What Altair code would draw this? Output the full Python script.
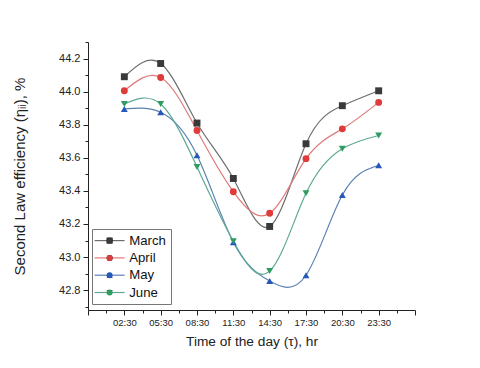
import altair as alt
import pandas as pd

times = ["02:30", "05:30", "08:30", "11:30", "14:30", "17:30", "20:30", "23:30"]
months = ["March", "April", "May", "June"]
march = [44.09, 44.17, 43.81, 43.475, 43.185, 43.685, 43.915, 44.005]
april = [44.005, 44.085, 43.765, 43.395, 43.265, 43.595, 43.775, 43.935]
may = [43.895, 43.875, 43.615, 43.09, 42.855, 42.89, 43.375, 43.555]
june = [43.925, 43.925, 43.545, 43.095, 42.915, 43.385, 43.655, 43.735]

marker_colors = ["#3a3a3a", "#e03b3b", "#2558b8", "#2f9c60"]
line_colors = ["#6e6e6e", "#e07a7a", "#5b80b4", "#5ea896"]
shapes = ["square", "circle", "triangle-up", "triangle-down"]

rows = []
for m, vals in zip(months, [march, april, may, june]):
    for t, v in zip(times, vals):
        h, mi = t.split(":")
        rows.append({"month": m, "month2": m, "time": t,
                     "hour": int(h) + int(mi) / 60, "eff": v})
df = pd.DataFrame(rows)

x_ticks = [-0.5 + 1.5 * i for i in range(19)]
y_ticks = [round(42.7 + 0.1 * i, 1) for i in range(17)]

major_x = "(abs((datum.value - 2.5) % 3) < 0.01) || datum.value < 0 || datum.value > 26"
label_x = ("(abs((datum.value - 2.5) % 3) < 0.01 && datum.value > 0 && datum.value < 25) ? "
           "((floor(datum.value) < 10 ? '0' : '') + floor(datum.value) + ':30') : ''")
major_y = "round(datum.value * 10) % 2 == 0"

FONT = "Liberation Sans"

x = alt.X("hour:Q", scale=alt.Scale(domain=[-0.5, 26.5], nice=False, zero=False),
          axis=alt.Axis(values=x_ticks, labelExpr=label_x,
                        tickSize={"condition": {"test": major_x, "value": 5}, "value": 3},
                        title="Time of the day (τ), hr", labelFontSize=9.5, titleFontSize=13.7,
                        titlePadding=8, labelPadding=2, grid=False,
                        domainColor="#222", tickColor="#222", labelColor="#222",
                        titleColor="#222", titleFontWeight="normal",
                        labelFont=FONT, titleFont=FONT))
y = alt.Y("eff:Q", scale=alt.Scale(domain=[42.68, 44.30], nice=False, zero=False),
          axis=alt.Axis(values=y_ticks,
                        labelExpr=f"{major_y} ? format(datum.value, '.1f') : ''",
                        tickSize={"condition": {"test": major_y, "value": 5}, "value": 3},
                        title="Second Law efficiency (ηᵢᵢ), %", labelFontSize=11,
                        titleFontSize=15, titlePadding=31, labelPadding=3, grid=False,
                        domainColor="#222", tickColor="#222", labelColor="#222",
                        titleColor="#222", titleFontWeight="normal",
                        labelFont=FONT, titleFont=FONT))

common_legend = dict(orient="none", legendX=4, legendY=187, title=None,
                     labelFontSize=13.2, labelFont=FONT, rowPadding=3.3, padding=5,
                     labelOffset=13, symbolSize=36, symbolOffset=6)

lines = alt.Chart(df).mark_line(interpolate="natural", strokeWidth=1.2).encode(
    x=x, y=y,
    stroke=alt.Stroke("month:N", sort=months,
                      scale=alt.Scale(domain=months, range=line_colors),
                      legend=alt.Legend(symbolType="M-5,0L5,0", symbolStrokeWidth=1.2,
                                        symbolFillColor="transparent",
                                        labelColor="#111", strokeColor="#777",
                                        fillColor="white", **common_legend)),
)

pt_legend = alt.Legend(labelColor="transparent", symbolStrokeWidth=0, **common_legend)

points = alt.Chart(df).mark_point(filled=True, size=48, opacity=1).encode(
    x=x, y=y,
    fill=alt.Fill("month2:N", sort=months,
                  scale=alt.Scale(range=marker_colors), legend=pt_legend),
    shape=alt.Shape("month2:N", sort=months,
                    scale=alt.Scale(range=shapes), legend=pt_legend),
)

chart = alt.layer(lines, points).properties(
    width=327, height=268,
    padding={"left": 4, "top": 33, "right": 5, "bottom": 5},
    background="white",
).configure_view(stroke=None)

chart.save("out.html", embed_options={"renderer": "svg", "actions": False})
